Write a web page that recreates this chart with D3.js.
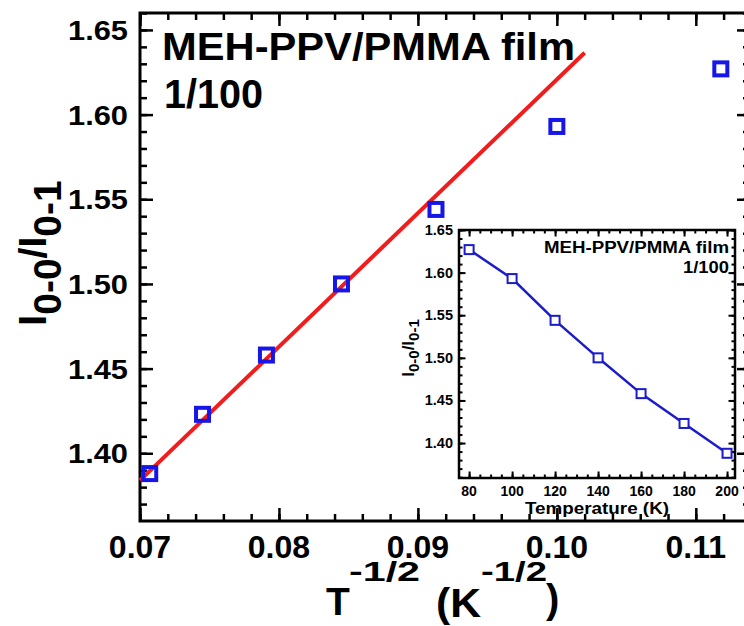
<!DOCTYPE html>
<html><head><meta charset="utf-8">
<script src="https://cdn.jsdelivr.net/npm/d3@7"></script>
<style>
html,body{margin:0;padding:0;background:#fff;}
svg{display:block;}
text{font-family:"Liberation Sans",Arial,Helvetica,sans-serif;font-weight:bold;fill:#000;}
</style></head>
<body>
<svg id="chart" width="744" height="626"></svg>
<script>
// ---------- data ----------
const temperatureK = [80, 100, 120, 140, 160, 180, 200];
const invSqrtT = [0.1118, 0.1000, 0.0913, 0.0845, 0.0791, 0.0745, 0.0707];
const ratio = [1.627, 1.593, 1.544, 1.500, 1.458, 1.423, 1.388];
const fitX = [0.0700, 0.1020];
const fitY = [1.384, 1.6365];
const mainXTicks = [0.07, 0.08, 0.09, 0.10, 0.11];
const mainXTickLabels = ["0.07", "0.08", "0.09", "0.10", "0.11"];
const mainYTicks = [1.40, 1.45, 1.50, 1.55, 1.60, 1.65];
const mainYTickLabels = ["1.40", "1.45", "1.50", "1.55", "1.60", "1.65"];
const insetXTicks = [80, 100, 120, 140, 160, 180, 200];
const insetYTicks = [1.40, 1.45, 1.50, 1.55, 1.60, 1.65];
const insetYTickLabels = ["1.40", "1.45", "1.50", "1.55", "1.60", "1.65"];
const sampleLabel = ["MEH-PPV/PMMA film", "1/100"];

const svg = d3.select("#chart");
const BLUE = "#1616e8", RED = "#f21c1c", IBLUE = "#1c1cc8";

// ---------- main plot ----------
const M = {left: 140, right: 750, top: 13, bottom: 521};
const x = d3.scaleLinear().domain([0.07, 0.1139]).range([M.left, M.right]);
const y = d3.scaleLinear().domain([1.36, 1.66]).range([M.bottom, M.top]);

const xMinor = d3.range(0.070, 0.1135, 0.002);
const yMinor = d3.range(1.37, 1.6605, 0.01);

function tickAxis(g, axisFn, scale, values, len, width) {
  g.call(axisFn(scale).tickValues(values).tickSize(len).tickFormat(""))
   .call(s => s.select(".domain").remove())
   .call(s => s.selectAll("line").attr("stroke", "#000").attr("stroke-width", width));
}
const mg = svg.append("g");
tickAxis(mg.append("g").attr("transform", `translate(0,${M.bottom})`), d3.axisTop, x, xMinor, 7, 2.5);
tickAxis(mg.append("g").attr("transform", `translate(0,${M.bottom})`), d3.axisTop, x, mainXTicks, 13, 2.5);
tickAxis(mg.append("g").attr("transform", `translate(0,${M.top})`), d3.axisBottom, x, xMinor, 7, 2.5);
tickAxis(mg.append("g").attr("transform", `translate(0,${M.top})`), d3.axisBottom, x, mainXTicks, 13, 2.5);
tickAxis(mg.append("g").attr("transform", `translate(${M.left},0)`), d3.axisRight, y, yMinor, 7, 2.5);
tickAxis(mg.append("g").attr("transform", `translate(${M.left},0)`), d3.axisRight, y, mainYTicks, 13, 2.5);
tickAxis(mg.append("g").attr("transform", `translate(${M.right},0)`), d3.axisLeft, y, yMinor, 7, 2.5);
tickAxis(mg.append("g").attr("transform", `translate(${M.right},0)`), d3.axisLeft, y, mainYTicks, 13, 2.5);

mg.append("rect").attr("x", M.left).attr("y", M.top)
  .attr("width", M.right - M.left).attr("height", M.bottom - M.top)
  .attr("fill", "none").attr("stroke", "#000").attr("stroke-width", 3);

// tick labels
mg.selectAll(".xl").data(mainXTicks).join("text")
  .attr("x", d => x(d)).attr("y", 558).attr("text-anchor", "middle")
  .attr("font-size", 32).text((d, i) => mainXTickLabels[i]);
mg.selectAll(".yl").data(mainYTicks).join("text")
  .attr("transform", d => `translate(128,${y(d) + 10}) scale(1.1,1)`)
  .attr("text-anchor", "end").attr("font-size", 28).text((d, i) => mainYTickLabels[i]);

// axis titles
const yt = mg.append("text").attr("transform", "translate(46,253) rotate(-90)")
  .attr("text-anchor", "middle").attr("font-size", 39);
yt.append("tspan").text("I");
yt.append("tspan").attr("dy", 15).text("0-0");
yt.append("tspan").attr("dy", -15).text("/I");
yt.append("tspan").attr("dy", 15).text("0-1");

// x title: T^-1/2 (K^-1/2)
const xtg = mg.append("g");
xtg.append("text").attr("x", 326).attr("y", 615).attr("font-size", 39).text("T");
xtg.append("text").attr("x", 349).attr("y", 581).attr("font-size", 28)
  .attr("textLength", 71).attr("lengthAdjust", "spacingAndGlyphs").text("-1/2");
xtg.append("text").attr("x", 436).attr("y", 617).attr("font-size", 40)
  .attr("textLength", 45).attr("lengthAdjust", "spacingAndGlyphs").text("(K");
xtg.append("text").attr("x", 481).attr("y", 581).attr("font-size", 28)
  .attr("textLength", 66).attr("lengthAdjust", "spacingAndGlyphs").text("-1/2");
xtg.append("text").attr("x", 546).attr("y", 613).attr("font-size", 40).text(")");

// sample label
mg.append("text").attr("x", 162).attr("y", 60).attr("font-size", 39)
  .attr("textLength", 413).attr("lengthAdjust", "spacingAndGlyphs").text(sampleLabel[0]);
mg.append("text").attr("x", 164).attr("y", 108).attr("font-size", 41)
  .attr("textLength", 99).attr("lengthAdjust", "spacingAndGlyphs").text(sampleLabel[1]);

// fit line
mg.append("path").datum(fitX.map((v, i) => [v, fitY[i]]))
  .attr("d", d3.line().x(d => x(d[0])).y(d => y(d[1])))
  .attr("stroke", RED).attr("stroke-width", 4).attr("fill", "none");

// points
const S = 13;
mg.selectAll(".pt").data(invSqrtT.map((v, i) => [v, ratio[i]])).join("rect")
  .attr("x", d => x(d[0]) - S / 2).attr("y", d => y(d[1]) - S / 2)
  .attr("width", S).attr("height", S)
  .attr("fill", "none").attr("stroke", BLUE).attr("stroke-width", 4);

// ---------- inset ----------
const I = {left: 459, right: 735, top: 230, bottom: 478};
const ix = d3.scaleLinear().domain([75.3, 203.7]).range([I.left, I.right]);
const iy = d3.scaleLinear().domain([1.359, 1.65]).range([I.bottom, I.top]);
const ig = svg.append("g");
ig.append("rect").attr("x", I.left).attr("y", I.top)
  .attr("width", I.right - I.left).attr("height", I.bottom - I.top).attr("fill", "#fff");
const ixMinor = d3.range(80, 203, 5);
const iyMinor = d3.range(1.36, 1.6505, 0.01);
tickAxis(ig.append("g").attr("transform", `translate(0,${I.bottom})`), d3.axisTop, ix, ixMinor, 3.5, 2);
tickAxis(ig.append("g").attr("transform", `translate(0,${I.bottom})`), d3.axisTop, ix, insetXTicks, 6.5, 2);
tickAxis(ig.append("g").attr("transform", `translate(0,${I.top})`), d3.axisBottom, ix, ixMinor, 3.5, 2);
tickAxis(ig.append("g").attr("transform", `translate(0,${I.top})`), d3.axisBottom, ix, insetXTicks, 6.5, 2);
tickAxis(ig.append("g").attr("transform", `translate(${I.left},0)`), d3.axisRight, iy, iyMinor, 3.5, 2);
tickAxis(ig.append("g").attr("transform", `translate(${I.left},0)`), d3.axisRight, iy, insetYTicks, 6.5, 2);
tickAxis(ig.append("g").attr("transform", `translate(${I.right},0)`), d3.axisLeft, iy, iyMinor, 3.5, 2);
tickAxis(ig.append("g").attr("transform", `translate(${I.right},0)`), d3.axisLeft, iy, insetYTicks, 6.5, 2);
ig.append("rect").attr("x", I.left).attr("y", I.top)
  .attr("width", I.right - I.left).attr("height", I.bottom - I.top)
  .attr("fill", "none").attr("stroke", "#000").attr("stroke-width", 2.5);

ig.selectAll(".ixl").data(insetXTicks).join("text")
  .attr("x", d => ix(d)).attr("y", 496).attr("text-anchor", "middle")
  .attr("font-size", 14).text(d => d);
ig.selectAll(".iyl").data(insetYTicks).join("text")
  .attr("x", 453).attr("y", d => iy(d) + 5).attr("text-anchor", "end")
  .attr("font-size", 14.5).text((d, i) => insetYTickLabels[i]);

ig.append("text").attr("x", 597).attr("y", 514).attr("text-anchor", "middle")
  .attr("font-size", 16).attr("textLength", 144).attr("lengthAdjust", "spacingAndGlyphs")
  .text("Temperature (K)");
const iyt = ig.append("text").attr("transform", "translate(414,348) rotate(-90)")
  .attr("text-anchor", "middle").attr("font-size", 17);
iyt.append("tspan").text("I");
iyt.append("tspan").attr("dy", 5).attr("font-size", 15).text("0-0");
iyt.append("tspan").attr("dy", -5).text("/I");
iyt.append("tspan").attr("dy", 5).attr("font-size", 15).text("0-1");

ig.append("text").attr("x", 729).attr("y", 253).attr("text-anchor", "end")
  .attr("font-size", 16).attr("textLength", 185).attr("lengthAdjust", "spacingAndGlyphs")
  .text(sampleLabel[0]);
ig.append("text").attr("x", 729).attr("y", 273).attr("text-anchor", "end")
  .attr("font-size", 16).attr("textLength", 46).attr("lengthAdjust", "spacingAndGlyphs")
  .text(sampleLabel[1]);

const ipts = temperatureK.map((t, i) => [t, ratio[i]]);
ig.append("path").datum(ipts)
  .attr("d", d3.line().x(d => ix(d[0])).y(d => iy(d[1])))
  .attr("stroke", IBLUE).attr("stroke-width", 2.5).attr("fill", "none");
const s2 = 9;
ig.selectAll(".ipt").data(ipts).join("rect")
  .attr("x", d => ix(d[0]) - s2 / 2).attr("y", d => iy(d[1]) - s2 / 2)
  .attr("width", s2).attr("height", s2)
  .attr("fill", "#fff").attr("stroke", IBLUE).attr("stroke-width", 2);
</script>
</body></html>
